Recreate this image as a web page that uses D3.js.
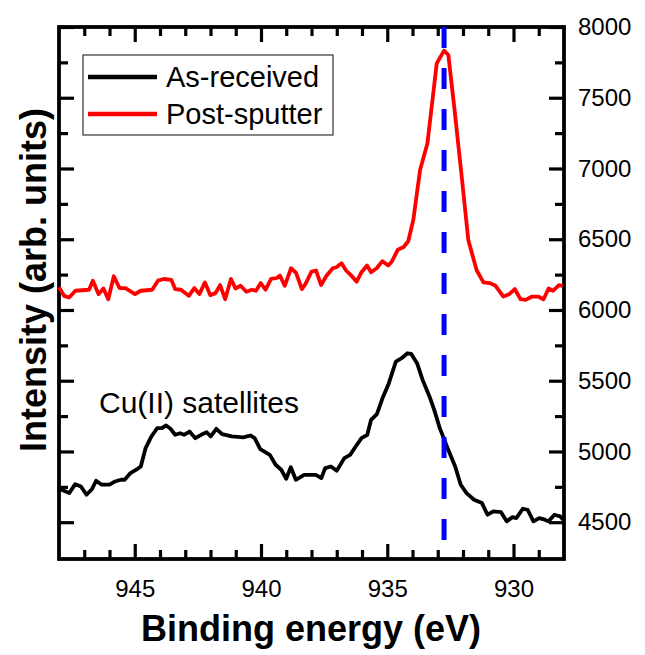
<!DOCTYPE html>
<html>
<head>
<meta charset="utf-8">
<script src="https://cdn.jsdelivr.net/npm/d3@7"></script>
<style>
  html, body { margin: 0; padding: 0; background: #fff; }
  svg { display: block; font-family: "Liberation Sans", Arial, sans-serif; }
</style>
</head>
<body>
<svg id="chart" width="645" height="655"></svg>
<script>
// Cu 2p3/2 region, as-received sample (binding energy in eV, counts)
const asReceivedEnergy = [
  948.0, 947.9, 947.59, 947.36, 947.13, 946.91, 946.69, 946.53, 946.31, 946.0,
  945.78, 945.55, 945.4, 945.17, 944.94, 944.76, 944.57, 944.34, 944.11, 943.92,
  943.76, 943.58, 943.4, 943.2, 943.05, 942.83, 942.6, 942.37, 942.15, 941.99,
  941.77, 941.54, 941.16, 940.71, 940.41, 940.25, 940.03, 939.65, 939.42, 939.2,
  939.0, 938.82, 938.62, 938.29, 938.06, 937.83, 937.61, 937.46, 937.23, 937.0,
  936.7, 936.47, 936.25, 936.02, 935.79, 935.64, 935.41, 935.19, 934.96, 934.66,
  934.43, 934.2, 934.05, 933.82, 933.6, 933.3, 933.14, 932.92, 932.61, 932.31,
  932.09, 931.86, 931.56, 931.25, 931.03, 930.8, 930.5, 930.27, 930.04, 929.89,
  929.63, 929.44, 929.21, 928.98, 928.76, 928.61, 928.38, 928.15, 928.03
];
const asReceivedCounts = [
  4735, 4729, 4706, 4769, 4752, 4694, 4735, 4793, 4765, 4765,
  4788, 4800, 4800, 4847, 4871, 4894, 5024, 5106, 5165, 5165,
  5184, 5160, 5118, 5129, 5118, 5141, 5094, 5118, 5136, 5106,
  5160, 5122, 5106, 5099, 5113, 5094, 5016, 4976, 4906, 4871,
  4807, 4889, 4800, 4835, 4835, 4835, 4812, 4882, 4894, 4864,
  4953, 4976, 5035, 5094, 5118, 5224, 5264, 5376, 5471, 5635,
  5659, 5694, 5689, 5624, 5506, 5376, 5294, 5165, 5024, 4894,
  4765, 4706, 4659, 4635, 4553, 4576, 4572, 4506, 4536, 4529,
  4595, 4588, 4506, 4529, 4518, 4506, 4553, 4541, 4518
];

// Same region after sputtering
const postSputterEnergy = [
  948.0, 947.8, 947.6, 947.35, 946.81, 946.66, 946.43, 946.24, 946.05, 945.83,
  945.6, 945.37, 944.99, 944.76, 944.31, 944.08, 943.85, 943.55, 943.4, 943.17,
  942.86, 942.64, 942.44, 942.22, 942.01, 941.8, 941.62, 941.42, 941.19, 941.01,
  940.81, 940.58, 940.36, 940.2, 940.01, 939.82, 939.6, 939.37, 939.25, 939.06,
  938.81, 938.61, 938.38, 938.23, 938.0, 937.82, 937.62, 937.42, 937.16, 937.01,
  936.81, 936.63, 936.45, 936.21, 936.02, 935.8, 935.64, 935.42, 935.19, 934.96,
  934.81, 934.58, 934.35, 934.17, 933.97, 933.7, 933.41, 933.04, 932.75, 932.58,
  932.32, 932.05, 931.79, 931.46, 931.19, 930.93, 930.71, 930.4, 930.17, 929.95,
  929.72, 929.52, 929.26, 929.03, 928.81, 928.61, 928.43, 928.2, 928.05
];
const postSputterCounts = [
  6160, 6100, 6088, 6136, 6143, 6207, 6112, 6152, 6076, 6238,
  6155, 6155, 6112, 6136, 6143, 6207, 6219, 6212, 6148, 6143,
  6100, 6155, 6112, 6195, 6105, 6119, 6176, 6076, 6219, 6152,
  6171, 6129, 6143, 6136, 6190, 6143, 6219, 6226, 6243, 6171,
  6295, 6262, 6148, 6186, 6271, 6279, 6176, 6238, 6295, 6302,
  6331, 6279, 6248, 6200, 6267, 6314, 6267, 6295, 6345, 6314,
  6345, 6426, 6445, 6486, 6635, 6989, 7177, 7743, 7833, 7802,
  7390, 6941, 6494, 6281, 6195, 6190, 6171, 6095, 6112, 6148,
  6076, 6071, 6095, 6095, 6076, 6152, 6136, 6176, 6171
];

// Reference binding energy marker
const markerEnergy = 932.75;

const xMajorTicks = [945, 940, 935, 930];
const xMinorTicks = [947, 946, 944, 943, 942, 941, 939, 938, 937, 936, 934, 933, 932, 931, 929];
const yMajorTicks = [4500, 5000, 5500, 6000, 6500, 7000, 7500, 8000];
const yMinorTicks = [4750, 5250, 5750, 6250, 6750, 7250, 7750];

const seriesNames = ["As-received", "Post-sputter"];
const seriesColors = ["#000000", "#ff0000"];

const svg = d3.select("#chart");
const plotLeft = 59, plotRight = 564, plotTop = 27, plotBottom = 559;

const x = d3.scaleLinear().domain([948, 928]).range([plotLeft, plotRight]);
const y = d3.scaleLinear().domain([4240, 8000]).range([plotBottom, plotTop]);

const MAJOR = 15, MINOR = 9;

function styleAxis(g) {
  g.select(".domain").remove();
  g.selectAll(".tick line").attr("stroke", "#000").attr("stroke-width", 3.2);
  g.selectAll(".tick text")
    .attr("fill", "#000")
    .style("font-size", "24px")
    .style("font-family", "'Liberation Sans', Arial, sans-serif");
}

// bottom axis: labelled majors and minors, ticks pointing into the plot
svg.append("g").attr("transform", `translate(0,${plotBottom})`)
  .call(d3.axisBottom(x).tickValues(xMajorTicks).tickSize(-MAJOR).tickPadding(21).tickFormat(d3.format("d")))
  .call(styleAxis);
svg.append("g").attr("transform", `translate(0,${plotBottom})`)
  .call(d3.axisBottom(x).tickValues(xMinorTicks).tickSize(-MINOR).tickFormat(""))
  .call(styleAxis);
// top axis
svg.append("g").attr("transform", `translate(0,${plotTop})`)
  .call(d3.axisTop(x).tickValues(xMajorTicks).tickSize(-MAJOR).tickFormat(""))
  .call(styleAxis);
svg.append("g").attr("transform", `translate(0,${plotTop})`)
  .call(d3.axisTop(x).tickValues(xMinorTicks).tickSize(-MINOR).tickFormat(""))
  .call(styleAxis);
// right axis with labels
svg.append("g").attr("transform", `translate(${plotRight},0)`)
  .call(d3.axisRight(y).tickValues(yMajorTicks).tickSize(-MAJOR).tickPadding(14).tickFormat(d3.format("d")))
  .call(styleAxis);
svg.append("g").attr("transform", `translate(${plotRight},0)`)
  .call(d3.axisRight(y).tickValues(yMinorTicks).tickSize(-MINOR).tickFormat(""))
  .call(styleAxis);
// left axis, ticks only
svg.append("g").attr("transform", `translate(${plotLeft},0)`)
  .call(d3.axisLeft(y).tickValues(yMajorTicks).tickSize(-MAJOR).tickFormat(""))
  .call(styleAxis);
svg.append("g").attr("transform", `translate(${plotLeft},0)`)
  .call(d3.axisLeft(y).tickValues(yMinorTicks).tickSize(-MINOR).tickFormat(""))
  .call(styleAxis);

// plot frame
svg.append("rect")
  .attr("x", plotLeft).attr("y", plotTop)
  .attr("width", plotRight - plotLeft).attr("height", plotBottom - plotTop)
  .attr("fill", "none").attr("stroke", "#000").attr("stroke-width", 3.8);

// spectra
const line = d3.line().x(d => x(d[0])).y(d => y(d[1]));
const series = [
  d3.zip(asReceivedEnergy, asReceivedCounts),
  d3.zip(postSputterEnergy, postSputterCounts)
];
series.forEach((pts, i) => {
  svg.append("path")
    .datum(pts)
    .attr("d", line)
    .attr("fill", "none")
    .attr("stroke", seriesColors[i])
    .attr("stroke-width", 3.8)
    .attr("stroke-linejoin", "round");
});

// dashed marker line
svg.append("line")
  .attr("x1", x(markerEnergy)).attr("x2", x(markerEnergy))
  .attr("y1", plotTop).attr("y2", 540)
  .attr("stroke", "#0000ff").attr("stroke-width", 5)
  .attr("stroke-dasharray", "21 20");

// annotation
svg.append("text")
  .attr("x", 99).attr("y", 413)
  .style("font-size", "30px")
  .attr("fill", "#000")
  .text("Cu(II) satellites");

// legend
const legend = svg.append("g");
legend.append("rect")
  .attr("x", 83).attr("y", 55).attr("width", 250).attr("height", 80)
  .attr("fill", "#fff").attr("stroke", "#333").attr("stroke-width", 1.2);
seriesNames.forEach((name, i) => {
  const ly = 77 + i * 37;
  legend.append("line")
    .attr("x1", 88).attr("x2", 157).attr("y1", ly).attr("y2", ly)
    .attr("stroke", seriesColors[i]).attr("stroke-width", 4.5);
  legend.append("text")
    .attr("x", 166).attr("y", ly + 10)
    .style("font-size", "29px")
    .attr("fill", "#000")
    .text(name);
});

// axis titles
svg.append("text")
  .attr("x", 311).attr("y", 641)
  .attr("text-anchor", "middle")
  .style("font-size", "36px").style("font-weight", "bold")
  .text("Binding energy (eV)");
svg.append("text")
  .attr("transform", `translate(46,280) rotate(-90)`)
  .attr("text-anchor", "middle")
  .style("font-size", "36px").style("font-weight", "bold")
  .text("Intensity (arb. units)");
</script>
</body>
</html>
